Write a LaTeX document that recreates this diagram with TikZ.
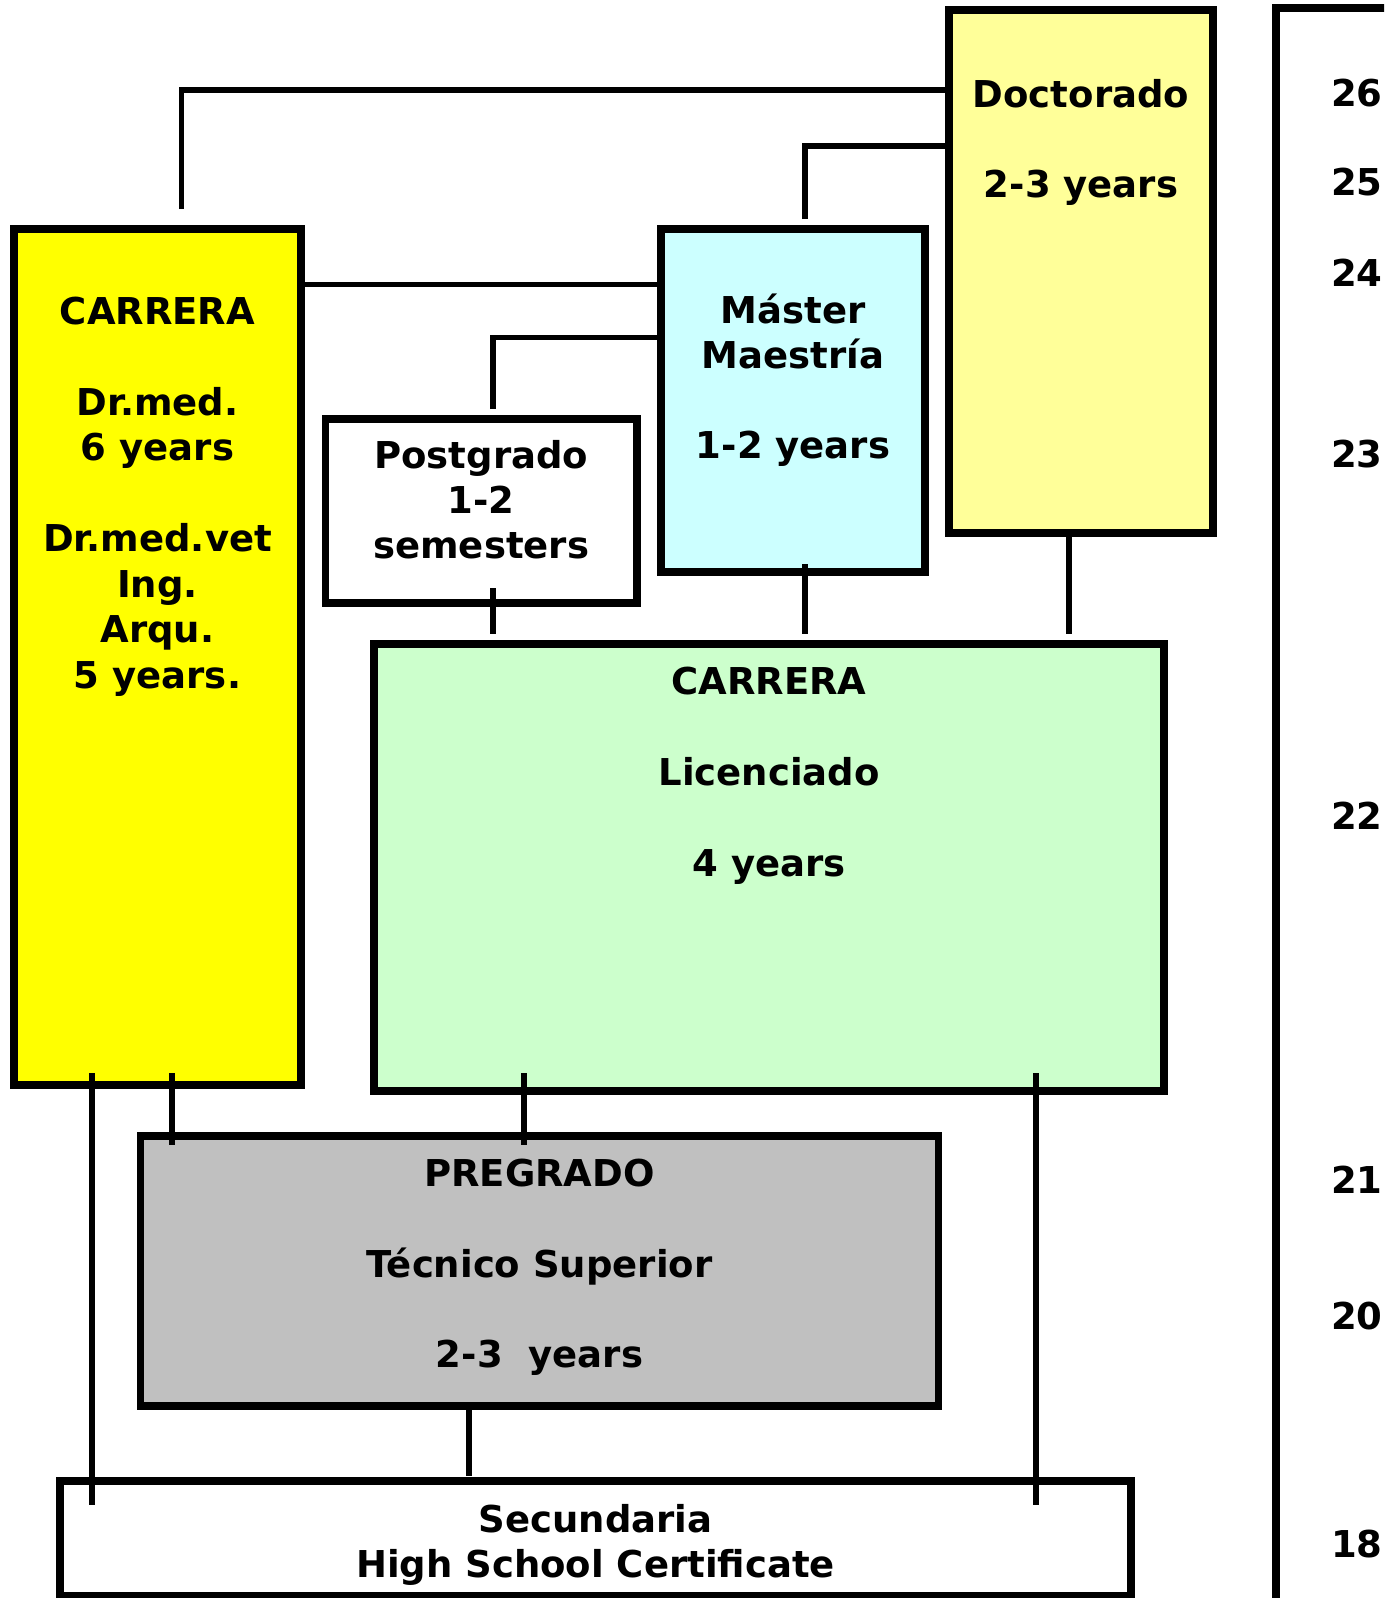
\documentclass[tikz,border=0pt]{standalone}
\usepackage{fontspec}
\setmainfont{DejaVu Sans}
\begin{document}
\begin{tikzpicture}[x=1pt,y=-1pt,
  box/.style={draw=black,line width=7.5pt,inner sep=0pt,outer sep=0pt},
  conn/.style={draw=black,line width=5.5pt},
  lbl/.style={inner sep=0pt,anchor=base,font=\fontsize{37}{45}\selectfont\bfseries},
  age/.style={inner sep=0pt,anchor=base west,font=\fontsize{37}{45}\selectfont\bfseries}]
\definecolor{docyel}{HTML}{FFFF99}
\definecolor{caryel}{HTML}{FFFF00}
\definecolor{mascyan}{HTML}{CCFFFF}
\definecolor{lgreen}{HTML}{CCFFCC}
\definecolor{pgray}{HTML}{C0C0C0}
\useasboundingbox (0,0) rectangle (1384,1598);
\clip (0,0) rectangle (1384,1598);
\fill[white] (0,0) rectangle (1384,1598);
% boxes
\node[box,fill=docyel,minimum width=264pt,minimum height=523pt] (doc) at (1081,271.5) {};
\node[box,fill=caryel,minimum width=287pt,minimum height=856pt] (yel) at (157.5,657) {};
\node[box,fill=mascyan,minimum width=264pt,minimum height=343pt] (mas) at (793,400.5) {};
\node[box,fill=white,minimum width=311.5pt,minimum height=184pt] (pos) at (481.25,511) {};
\node[box,fill=lgreen,minimum width=790pt,minimum height=447pt] (grn) at (769,867.5) {};
\node[box,fill=pgray,minimum width=798pt,minimum height=270pt] (pre) at (539.5,1271) {};
\node[box,fill=white,minimum width=1071pt,minimum height=115pt] (sec) at (595.5,1538.5) {};
% right age frame
\coordinate (fb) at (1276,1610);
\coordinate (ft) at (1276,8);
\coordinate (fr) at (1400,8);
\draw[line width=7.5pt] (fb) -- (ft) -- (fr);
% connectors
\coordinate (k1) at (181.4,209);
\draw[conn] (k1) |- (doc.west |- 0,90);
\coordinate (k2) at (805,219);
\draw[conn] (k2) |- (doc.west |- 0,146);
\draw[conn] (yel.east |- 0,284.5) -- (mas.west |- 0,284.5);
\coordinate (k4) at (493,409);
\draw[conn] (k4) |- (mas.west |- 0,337.5);
\coordinate (k5a) at (493,588); \coordinate (k5b) at (493,634);
\draw[conn] (k5a) -- (k5b);
\coordinate (k6a) at (805,564); \coordinate (k6b) at (805,634);
\draw[conn] (k6a) -- (k6b);
\coordinate (k7b) at (1069,634);
\draw[conn] (doc.south -| k7b) -- (k7b);
\coordinate (k8a) at (92,1073); \coordinate (k8b) at (92,1505);
\draw[conn] (k8a) -- (k8b);
\coordinate (k9a) at (172,1073); \coordinate (k9b) at (172,1145);
\draw[conn] (k9a) -- (k9b);
\coordinate (k10a) at (524,1073); \coordinate (k10b) at (524,1145);
\draw[conn] (k10a) -- (k10b);
\coordinate (k11a) at (1036,1073); \coordinate (k11b) at (1036,1505);
\draw[conn] (k11a) -- (k11b);
\coordinate (k12b) at (469,1476);
\draw[conn] (pre.south -| k12b) -- (k12b);
% texts: Doctorado
\node[lbl] (t1) at (1081,107) {Doctorado};
\node[lbl] (t2) at (1081,197) {2-3 years};
% yellow carrera
\node[lbl] (t3) at (157.5,324) {CARRERA};
\node[lbl] (t4) at (157.5,415) {Dr.med.};
\node[lbl] (t5) at (157.5,460.5) {6 years};
\node[lbl] (t6) at (157.5,551.5) {Dr.med.vet};
\node[lbl] (t7) at (157.5,597) {Ing.};
\node[lbl] (t8) at (157.5,642.5) {Arqu.};
\node[lbl] (t9) at (157.5,688) {5 years.};
% master
\node[lbl] (t10) at (793,323) {Máster};
\node[lbl] (t11) at (793,368) {Maestría};
\node[lbl] (t12) at (793,458) {1-2 years};
% postgrado
\node[lbl] (t13) at (481.25,468) {Postgrado};
\node[lbl] (t14) at (481.25,513) {1-2};
\node[lbl] (t15) at (481.25,558) {semesters};
% green carrera
\node[lbl] (t16) at (769,694) {CARRERA};
\node[lbl] (t17) at (769,785) {Licenciado};
\node[lbl] (t18) at (769,876) {4 years};
% pregrado
\node[lbl] (t19) at (539.5,1186) {PREGRADO};
\node[lbl] (t20) at (539.5,1277.5) {Técnico Superior};
\node[lbl] (t21) at (539.5,1367) {2-3~~years};
% secundaria
\node[lbl] (t22) at (595.5,1532) {Secundaria};
\node[lbl] (t23) at (595.5,1577) {High School Certificate};
% ages
\node[age] (a26) at (1331,106) {26};
\node[age] (a25) at (1331,195) {25};
\node[age] (a24) at (1331,286) {24};
\node[age] (a23) at (1331,467) {23};
\node[age] (a22) at (1331,829) {22};
\node[age] (a21) at (1331,1193) {21};
\node[age] (a20) at (1331,1329.5) {20};
\node[age] (a18) at (1331,1557) {18};
\end{tikzpicture}
\end{document}
